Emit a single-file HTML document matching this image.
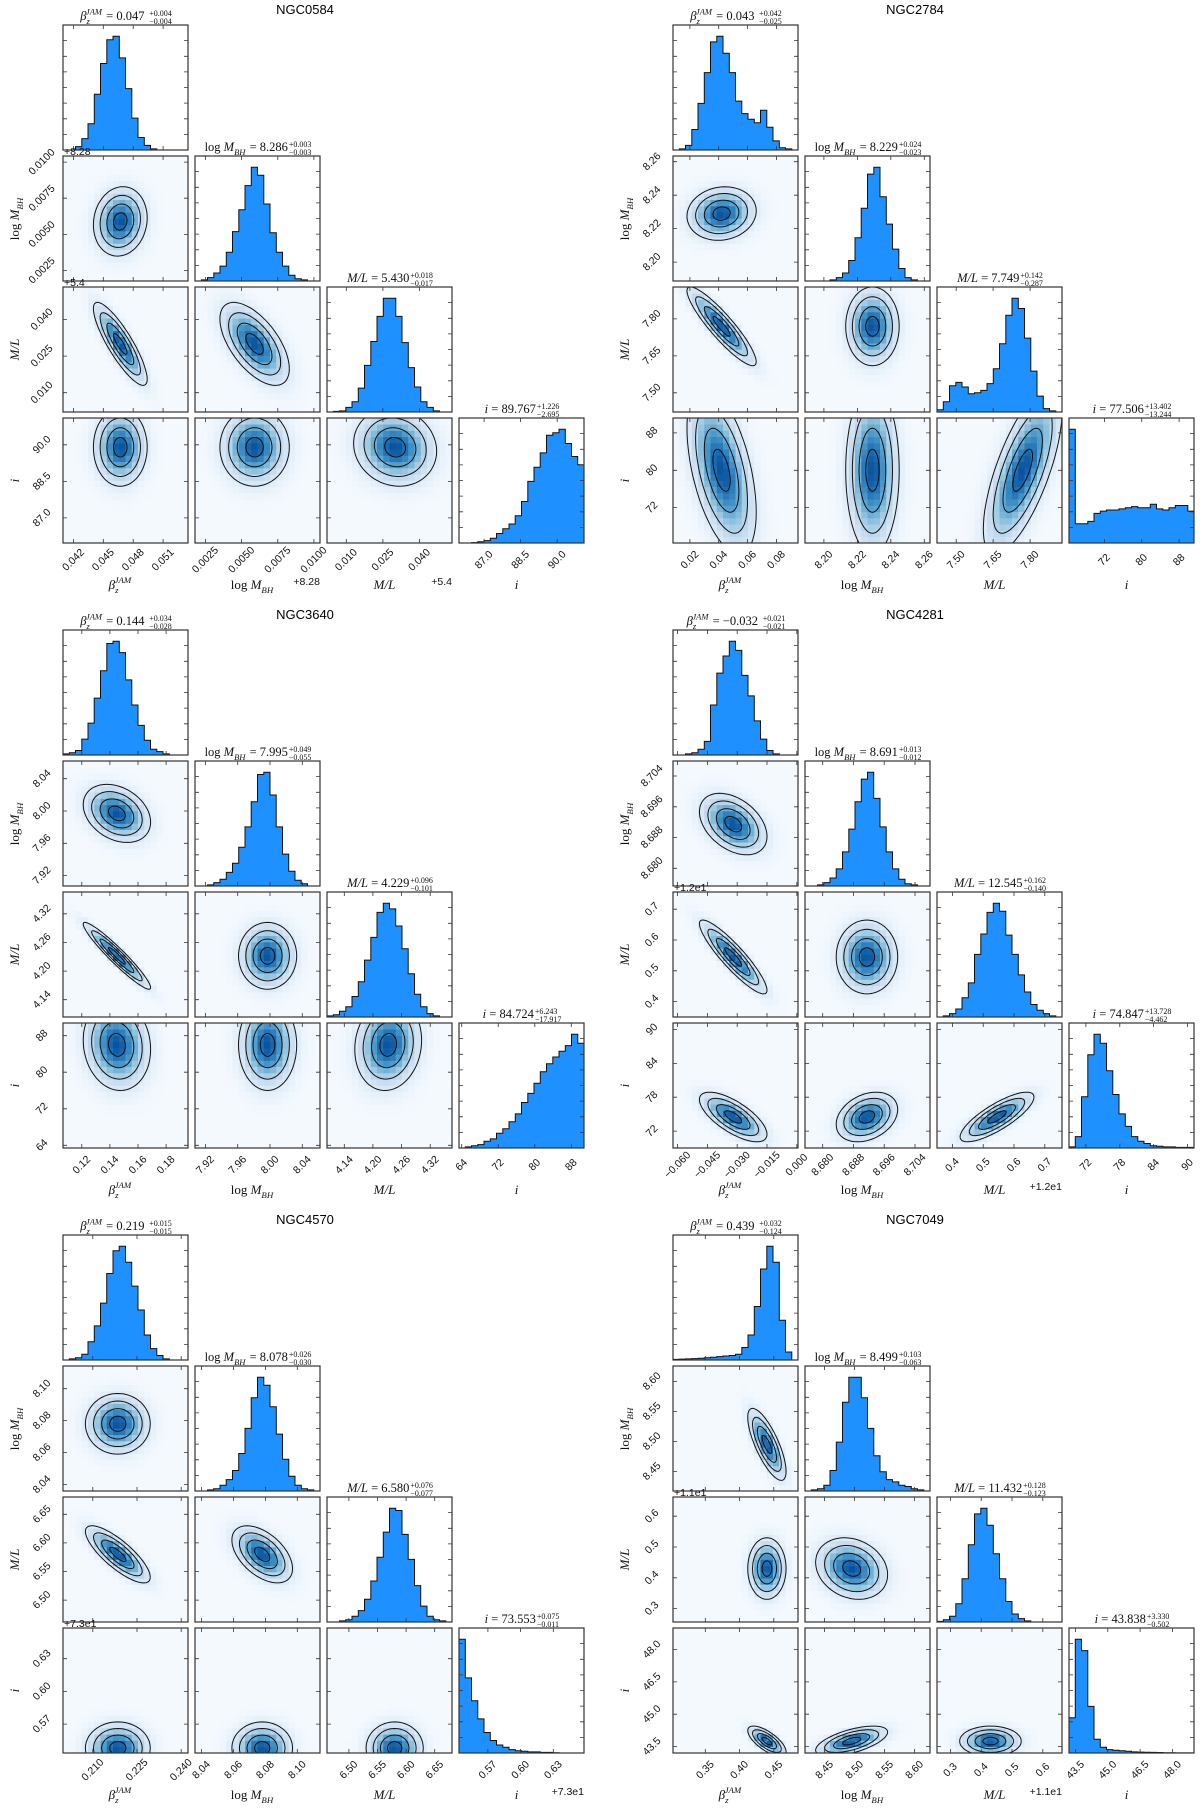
<!DOCTYPE html>
<html><head><meta charset="utf-8"><title>JAM corner plots</title>
<style>
html,body{margin:0;padding:0;background:#fff;}
svg{display:block;}
.tk{font-family:"Liberation Sans",sans-serif;font-size:10.5px;fill:#111;}
.ttl{font-family:"Liberation Sans",sans-serif;font-size:13px;fill:#000;}
.st{font-family:"Liberation Serif",serif;fill:#111;}
.ax{font-family:"Liberation Serif",serif;fill:#111;}
</style></head>
<body>
<svg id="fig" xmlns="http://www.w3.org/2000/svg" width="1200" height="1814" viewBox="0 0 1200 1814">
<rect x="0" y="0" width="1200" height="1814" fill="#fff"/>
</svg>
<script>
// ===== DATA =====
const n0584Beta=[0,0,0.03,0.1,0.23,0.49,0.76,0.97,1.0,0.81,0.54,0.28,0.11,0.04,0.01,0,0,0,0,0];
const n0584LogM=[0,0.01,0.03,0.07,0.13,0.25,0.43,0.62,0.83,0.99,0.92,0.67,0.42,0.25,0.13,0.05,0.02,0.01,0,0];
const n0584ML=[0,0.005,0.01,0.04,0.09,0.21,0.41,0.62,0.84,1.0,1.0,0.84,0.61,0.39,0.22,0.09,0.04,0.01,0,0];
const n0584I=[0,0,0.003,0.01,0.02,0.04,0.08,0.12,0.16,0.23,0.35,0.52,0.64,0.76,0.91,0.93,0.96,0.84,0.73,0.66];
const n2784Beta=[0,0.01,0.04,0.18,0.41,0.68,0.95,1.0,0.85,0.68,0.43,0.32,0.27,0.24,0.35,0.2,0.08,0.02,0.01,0];
const n2784LogM=[0,0,0,0,0.01,0.03,0.07,0.18,0.38,0.64,0.94,1.0,0.74,0.5,0.28,0.11,0.03,0.01,0,0];
const n2784ML=[0.02,0.09,0.23,0.26,0.22,0.16,0.17,0.19,0.25,0.38,0.6,0.85,1.0,0.91,0.65,0.36,0.14,0.03,0.01,0];
const n2784I=[1.0,0.17,0.17,0.19,0.26,0.28,0.29,0.29,0.3,0.31,0.32,0.31,0.31,0.34,0.3,0.29,0.31,0.33,0.33,0.28];
const n3640Beta=[0.01,0.02,0.04,0.14,0.28,0.5,0.74,0.98,1.0,0.9,0.66,0.44,0.26,0.13,0.05,0.03,0.01,0,0,0];
const n3640LogM=[0,0,0.01,0.03,0.06,0.12,0.2,0.34,0.52,0.74,0.98,1.0,0.8,0.52,0.28,0.13,0.05,0.02,0,0];
const n3640ML=[0.01,0.02,0.05,0.09,0.18,0.31,0.5,0.7,0.92,1.0,0.95,0.8,0.6,0.38,0.2,0.09,0.03,0.01,0,0];
const n3640I=[0,0.01,0.02,0.03,0.06,0.08,0.13,0.17,0.23,0.3,0.4,0.48,0.57,0.67,0.74,0.8,0.85,0.9,1.0,0.92];
const n4281Beta=[0,0,0.01,0.02,0.05,0.12,0.44,0.72,0.87,1.0,0.92,0.7,0.52,0.3,0.14,0.04,0.01,0,0,0];
const n4281LogM=[0,0,0.01,0.03,0.07,0.15,0.3,0.5,0.74,0.94,1.0,0.77,0.52,0.3,0.15,0.06,0.02,0.01,0,0];
const n4281ML=[0,0.01,0.03,0.07,0.17,0.3,0.55,0.73,0.92,1.0,0.93,0.72,0.55,0.37,0.22,0.11,0.06,0.03,0.01,0];
const n4281I=[0.01,0.1,0.45,0.82,1.0,0.92,0.68,0.47,0.3,0.19,0.1,0.06,0.04,0.02,0.015,0.01,0.01,0.005,0.005,0.005];
const n4570Beta=[0,0.01,0.02,0.05,0.16,0.3,0.5,0.76,0.96,1.0,0.86,0.65,0.44,0.22,0.1,0.04,0.01,0,0,0];
const n4570LogM=[0,0,0.01,0.02,0.05,0.1,0.18,0.33,0.55,0.82,1.0,0.93,0.74,0.5,0.28,0.13,0.05,0.02,0.01,0];
const n4570ML=[0,0,0.01,0.02,0.05,0.1,0.2,0.36,0.57,0.79,1.0,0.98,0.77,0.55,0.32,0.14,0.05,0.02,0.01,0];
const n4570I=[1.0,0.66,0.46,0.3,0.18,0.11,0.07,0.05,0.03,0.02,0.015,0.01,0.01,0.005,0.005,0.003,0,0,0,0];
const n7049Beta=[0.005,0.008,0.01,0.012,0.015,0.02,0.025,0.03,0.035,0.04,0.05,0.11,0.22,0.47,0.8,1.0,0.86,0.35,0.07,0];
const n7049LogM=[0,0.01,0.02,0.05,0.18,0.43,0.78,1.0,1.0,0.82,0.55,0.31,0.17,0.1,0.08,0.05,0.04,0.02,0.01,0];
const n7049ML=[0.005,0.02,0.05,0.16,0.38,0.68,0.95,1.0,0.85,0.6,0.38,0.18,0.07,0.03,0.01,0,0,0,0,0];
const n7049I=[0.31,1.0,0.9,0.41,0.12,0.05,0.03,0.025,0.02,0.015,0.01,0.008,0.006,0.005,0.004,0.003,0.002,0.001,0.001,0.001];

const n0584Mean=[0.0467,0.0059,0.030,89.9];
const n0584Sd=[0.00135,0.0012,0.0085,0.8];
const n0584Corr=[0.1,-0.85,-0.6,0,0,-0.1];
const n2784Mean=[0.042,8.229,7.77,80];
const n2784Sd=[0.012,0.008,0.08,9];
const n2784Corr=[0.1,-0.9,0,-0.5,0,0.7];
const n3640Mean=[0.145,7.997,4.232,86];
const n3640Sd=[0.012,0.018,0.035,5];
const n3640Corr=[-0.3,-0.95,0,-0.1,0,0.1];
const n4281Mean=[-0.032,8.6915,0.545,74.5];
const n4281Sd=[0.0085,0.004,0.06,2.2];
const n4281Corr=[-0.4,-0.9,0,-0.7,0.3,0.8];
const n4570Mean=[0.2185,8.078,6.58,0.548];
const n4570Sd=[0.0055,0.0095,0.025,0.012];
const n4570Corr=[0,-0.8,-0.5,0,0,0];
const n7049Mean=[0.44,8.495,0.43,43.75];
const n7049Sd=[0.014,0.03,0.05,0.35];
const n7049Corr=[-0.75,0,-0.2,-0.7,0.6,0];

const n0584Lo=[0.04095,0.00178,0.0021,85.97], n0584Hi=[0.0535,0.01042,0.0533,91.1];
const n0584Ticks=[[0.042,0.045,0.048,0.051],[0.0025,0.005,0.0075,0.01],[0.01,0.025,0.04],[87,88.5,90]];
const n0584Dec=[3,4,3,1];
const n2784Lo=[0.0083,8.1887,7.4219,64.41], n2784Hi=[0.095,8.2634,7.9297,91.2];
const n2784Ticks=[[0.02,0.04,0.06,0.08],[8.20,8.22,8.24,8.26],[7.5,7.65,7.8],[72,80,88]];
const n2784Dec=[2,2,2,0];
const n3640Lo=[0.1066,7.9071,4.1038,63.41], n3640Hi=[0.1956,8.0619,4.3656,90.78];
const n3640Ticks=[[0.12,0.14,0.16,0.18],[7.92,7.96,8.00,8.04],[4.14,4.2,4.26,4.32],[64,72,80,88]];
const n3640Dec=[2,2,2,0];
const n4281Lo=[-0.0623,8.6754,0.35,69], n4281Hi=[0.0006,8.7079,0.756,91.16];
const n4281Ticks=[[-0.06,-0.045,-0.03,-0.015,0],[8.68,8.688,8.696,8.704],[0.4,0.5,0.6,0.7],[72,78,84,90]];
const n4281Dec=[3,3,1,0];
const n4570Lo=[0.1999,8.0359,6.4616,0.5435], n4570Hi=[0.2423,8.1142,6.6803,0.6582];
const n4570Ticks=[[0.21,0.225,0.24],[8.04,8.06,8.08,8.10],[6.5,6.55,6.6,6.65],[0.57,0.6,0.63]];
const n4570Dec=[3,2,2,2];
const n7049Lo=[0.3028,8.4173,0.2563,43.2], n7049Hi=[0.4854,8.6256,0.6625,49.0];
const n7049Ticks=[[0.35,0.4,0.45],[8.45,8.5,8.55,8.6],[0.3,0.4,0.5,0.6],[43.5,45,46.5,48]];
const n7049Dec=[2,2,1,1];

const n0584Stats=[['0.047','+0.004','−0.004'],['8.286','+0.003','−0.003'],['5.430','+0.018','−0.017'],['89.767','+1.226','−2.695']];
const n2784Stats=[['0.043','+0.042','−0.025'],['8.229','+0.024','−0.023'],['7.749','+0.142','−0.287'],['77.506','+13.402','−13.244']];
const n3640Stats=[['0.144','+0.034','−0.028'],['7.995','+0.049','−0.055'],['4.229','+0.096','−0.101'],['84.724','+6.243','−17.917']];
const n4281Stats=[['−0.032','+0.021','−0.021'],['8.691','+0.013','−0.012'],['12.545','+0.162','−0.140'],['74.847','+13.728','−4.462']];
const n4570Stats=[['0.219','+0.015','−0.015'],['8.078','+0.026','−0.030'],['6.580','+0.076','−0.077'],['73.553','+0.075','−0.011']];
const n7049Stats=[['0.439','+0.032','−0.124'],['8.499','+0.103','−0.063'],['11.432','+0.128','−0.123'],['43.838','+3.330','−0.502']];

const corners=[
 {name:'NGC0584',ox:63,oy:25,h:[n0584Beta,n0584LogM,n0584ML,n0584I],m:n0584Mean,s:n0584Sd,r:n0584Corr,lo:n0584Lo,hi:n0584Hi,t:n0584Ticks,d:n0584Dec,st:n0584Stats,off:['','+8.28','+5.4','']},
 {name:'NGC2784',ox:673,oy:25,h:[n2784Beta,n2784LogM,n2784ML,n2784I],m:n2784Mean,s:n2784Sd,r:n2784Corr,lo:n2784Lo,hi:n2784Hi,t:n2784Ticks,d:n2784Dec,st:n2784Stats,off:['','','','']},
 {name:'NGC3640',ox:63,oy:630,h:[n3640Beta,n3640LogM,n3640ML,n3640I],m:n3640Mean,s:n3640Sd,r:n3640Corr,lo:n3640Lo,hi:n3640Hi,t:n3640Ticks,d:n3640Dec,st:n3640Stats,off:['','','','']},
 {name:'NGC4281',ox:673,oy:630,h:[n4281Beta,n4281LogM,n4281ML,n4281I],m:n4281Mean,s:n4281Sd,r:n4281Corr,lo:n4281Lo,hi:n4281Hi,t:n4281Ticks,d:n4281Dec,st:n4281Stats,off:['','','+1.2e1','']},
 {name:'NGC4570',ox:63,oy:1235,h:[n4570Beta,n4570LogM,n4570ML,n4570I],m:n4570Mean,s:n4570Sd,r:n4570Corr,lo:n4570Lo,hi:n4570Hi,t:n4570Ticks,d:n4570Dec,st:n4570Stats,off:['','','','+7.3e1']},
 {name:'NGC7049',ox:673,oy:1235,h:[n7049Beta,n7049LogM,n7049ML,n7049I],m:n7049Mean,s:n7049Sd,r:n7049Corr,lo:n7049Lo,hi:n7049Hi,t:n7049Ticks,d:n7049Dec,st:n7049Stats,off:['','','+1.1e1','']}
];

// ===== RENDER =====
const NS='http://www.w3.org/2000/svg';
const svg=document.getElementById('fig');
const W=125, PX=132, PY=131, NC=20;
const pairIdx={'0,1':0,'0,2':1,'1,2':2,'0,3':3,'1,3':4,'2,3':5};
const blues=[[247,251,255],[222,235,247],[198,219,239],[158,202,225],[107,174,214],[66,146,198],[33,113,181],[8,81,156],[8,48,107]];
function blue(t){t=Math.max(0,Math.min(1,t));const f=t*(blues.length-1),i=Math.min(Math.floor(f),blues.length-2),u=f-i;
 const c=blues[i].map((v,k)=>Math.round(v+(blues[i+1][k]-v)*u));return 'rgb('+c.join(',')+')';}
function mk(tag,parent){const e=document.createElementNS(NS,tag);parent.appendChild(e);return e;}
function fmt(v,d){return v.toFixed(d).replace('-','−');}

function varLabel(txt,k,x,y,size,anchor){
 txt.setAttribute('x',x);txt.setAttribute('y',y);txt.setAttribute('font-size',size);
 if(anchor)txt.setAttribute('text-anchor',anchor);
 const sub=size*0.68;
 if(k===0){
  let a=mk('tspan',txt);a.setAttribute('font-style','italic');a.textContent='β';
  let b=mk('tspan',txt);b.setAttribute('font-style','italic');b.setAttribute('font-size',sub);b.setAttribute('dy',size*0.3);b.textContent='z';
  let c=mk('tspan',txt);c.setAttribute('font-style','italic');c.setAttribute('font-size',sub);c.setAttribute('dx',-sub*0.45);c.setAttribute('dy',-size*0.75);c.textContent='JAM';
  let d=mk('tspan',txt);d.setAttribute('dy',size*0.45);d.textContent='\u200a';
 } else if(k===1){
  let a=mk('tspan',txt);a.textContent='log ';
  let b=mk('tspan',txt);b.setAttribute('font-style','italic');b.textContent='M';
  let c=mk('tspan',txt);c.setAttribute('font-style','italic');c.setAttribute('font-size',sub);c.setAttribute('dy',size*0.3);c.textContent='BH';
  let d=mk('tspan',txt);d.setAttribute('dy',-size*0.3);d.textContent='\u200a';
 } else if(k===2){
  let a=mk('tspan',txt);a.setAttribute('font-style','italic');a.textContent='M/L';
 } else {
  let a=mk('tspan',txt);a.setAttribute('font-style','italic');a.textContent='i';
 }
}

corners.forEach((C)=>{
 const slug=C.name.toLowerCase();
 const g=mk('g',svg);
 
 
 const title=mk('text',g);
 
 
 title.setAttribute('class','ttl');title.setAttribute('x',C.ox+242);title.setAttribute('y',C.oy-11);title.setAttribute('text-anchor','middle');
 title.textContent=C.name;

 const sx=(v,k,px)=>px+(v-C.lo[k])/(C.hi[k]-C.lo[k])*W;
 const sy=(v,k,py)=>py+W-(v-C.lo[k])/(C.hi[k]-C.lo[k])*W;

 for(let i=0;i<4;i++){
  for(let j=0;j<=i;j++){
   const px=C.ox+j*PX, py=C.oy+i*PY;
   const pg=mk('g',g);
   const clipId='clip-'+slug+'-'+i+'-'+j;
   const cp=mk('clipPath',pg);cp.setAttribute('id',clipId);
   const cr=mk('rect',cp);cr.setAttribute('x',px);cr.setAttribute('y',py);cr.setAttribute('width',W);cr.setAttribute('height',W);
   const inner=mk('g',pg);inner.setAttribute('clip-path','url(#'+clipId+')');
   if(i===j){
    
    
    const h=C.h[i], n=h.length, mx=Math.max(...h)/0.91;
    const bw=(C.hi[i]-C.lo[i])/n;
    let d='M'+px+','+(py+W);
    for(let b=0;b<n;b++){
     const x0=sx(C.lo[i]+b*bw,i,px), x1=sx(C.lo[i]+(b+1)*bw,i,px), y=py+W-h[b]/mx*W;
     d+=' L'+x0.toFixed(1)+','+y.toFixed(1)+' L'+x1.toFixed(1)+','+y.toFixed(1);
    }
    d+=' L'+(px+W)+','+(py+W)+' Z';
    const hp=mk('path',inner);
    
    
    hp.setAttribute('d',d);hp.setAttribute('fill','#1e90ff');hp.setAttribute('stroke','#111');hp.setAttribute('stroke-width','1');
    const stg=mk('g',g);
    
    
    const tt=mk('text',stg);tt.setAttribute('class','st');
    varLabel(tt,i,0,py-5,12.5,null);
    const eq=mk('tspan',tt);eq.textContent=' = '+C.st[i][0];
    const L=tt.getComputedTextLength();
    const up=mk('text',stg);up.setAttribute('class','st');up.setAttribute('font-size','8');up.setAttribute('y',py-9);up.textContent=C.st[i][1];
    const dn=mk('text',stg);dn.setAttribute('class','st');dn.setAttribute('font-size','8');dn.setAttribute('y',py-1);dn.textContent=C.st[i][2];
    const L2=Math.max(up.getComputedTextLength(),dn.getComputedTextLength());
    const x0=px+W/2-(L+L2)/2;
    tt.setAttribute('transform','translate('+x0+',0)');tt.setAttribute('x',0);
    up.setAttribute('x',x0+L+1);dn.setAttribute('x',x0+L+1);
   } else {
    
    
    const mxv=C.m[j], myv=C.m[i], sxv=C.s[j], syv=C.s[i], rho=C.r[pairIdx[j+','+i]];
    const q=Math.sqrt(1-rho*rho);
    const cw=W/NC;
    for(let a=0;a<NC;a++)for(let b=0;b<NC;b++){
     const vx=C.lo[j]+(a+0.5)/NC*(C.hi[j]-C.lo[j]);
     const vy=C.lo[i]+(b+0.5)/NC*(C.hi[i]-C.lo[i]);
     const zx=(vx-mxv)/sxv, zy=(vy-myv)/syv;
     const m2=(zx*zx-2*rho*zx*zy+zy*zy)/(q*q);
     const dens=Math.exp(-0.5*m2);
     const c=mk('rect',inner);
     
     
     c.setAttribute('x',(px+a*cw).toFixed(2));c.setAttribute('y',(py+W-(b+1)*cw).toFixed(2));
     c.setAttribute('width',(cw+0.3).toFixed(2));c.setAttribute('height',(cw+0.3).toFixed(2));
     c.setAttribute('fill',blue(0.015+dens*0.85));
    }
    [0.5,1,1.5,2].forEach(rr=>{
     let pts=[];
     for(let s=0;s<=72;s++){const th=s/72*2*Math.PI;
      const vx=mxv+sxv*rr*Math.cos(th), vy=myv+syv*(rho*rr*Math.cos(th)+q*rr*Math.sin(th));
      pts.push(sx(vx,j,px).toFixed(1)+','+sy(vy,i,py).toFixed(1));}
     const pl=mk('polyline',inner);
     
     
     pl.setAttribute('points',pts.join(' '));pl.setAttribute('fill','none');pl.setAttribute('stroke','#111');pl.setAttribute('stroke-width','1');
    });
   }
   const fr=mk('rect',pg);
   
   
   fr.setAttribute('x',px);fr.setAttribute('y',py);fr.setAttribute('width',W);fr.setAttribute('height',W);
   fr.setAttribute('fill','none');fr.setAttribute('stroke','#333');fr.setAttribute('stroke-width','1.2');
   const tmk=[];
   C.t[j].forEach(v=>{const x=sx(v,j,px);tmk.push('M'+x.toFixed(1)+','+(py+W)+' v-4 M'+x.toFixed(1)+','+py+' v4');});
   if(i!==j){C.t[i].forEach(v=>{const y=sy(v,i,py);tmk.push('M'+px+','+y.toFixed(1)+' h4 M'+(px+W)+','+y.toFixed(1)+' h-4');});}
   else{for(let k=1;k<8;k++){const y=py+W-k*W/8;tmk.push('M'+px+','+y.toFixed(1)+' h4 M'+(px+W)+','+y.toFixed(1)+' h-4');}}
   const tp=mk('path',pg);
   
   
   tp.setAttribute('d',tmk.join(' '));tp.setAttribute('stroke','#333');tp.setAttribute('stroke-width','0.8');
  }
 }
 for(let i=1;i<4;i++){
  const py=C.oy+i*PY;
  C.t[i].forEach(v=>{
   const y=sy(v,i,py), x=C.ox-21;
   const t=mk('text',g);
   
   
   t.setAttribute('class','tk');t.setAttribute('x',x);t.setAttribute('y',y);t.setAttribute('text-anchor','middle');t.setAttribute('dominant-baseline','central');
   t.setAttribute('transform','rotate(-45 '+x+' '+y.toFixed(1)+')');t.textContent=fmt(v,C.d[i]);
  });
  const yl=mk('text',g);
  
  
  yl.setAttribute('class','ax');
  varLabel(yl,i,0,0,13,'middle');
  yl.setAttribute('transform','translate('+(C.ox-44)+','+(py+W/2)+') rotate(-90)');
  if(C.off[i]){const o=mk('text',g);
   
   
   o.setAttribute('class','tk');o.setAttribute('font-size','11');o.setAttribute('x',C.ox+1);o.setAttribute('y',py-1);o.textContent=C.off[i];}
 }
 const by=C.oy+3*PY+W;
 for(let j=0;j<4;j++){
  const px=C.ox+j*PX;
  C.t[j].forEach(v=>{
   const x=sx(v,j,px), y=by+17;
   const t=mk('text',g);
   
   
   t.setAttribute('class','tk');t.setAttribute('x',x.toFixed(1));t.setAttribute('y',y);t.setAttribute('text-anchor','middle');t.setAttribute('dominant-baseline','central');
   t.setAttribute('transform','rotate(-45 '+x.toFixed(1)+' '+y+')');t.textContent=fmt(v,C.d[j]);
  });
  const xl=mk('text',g);
  
  
  xl.setAttribute('class','ax');
  varLabel(xl,j,px+W/2-5,by+46,13,'middle');
  if(C.off[j]){const o=mk('text',g);
   
   
   o.setAttribute('class','tk');o.setAttribute('font-size','11');o.setAttribute('x',px+W);o.setAttribute('y',by+42);o.setAttribute('text-anchor','end');o.textContent=C.off[j];}
 }
});
</script>
</body></html>
